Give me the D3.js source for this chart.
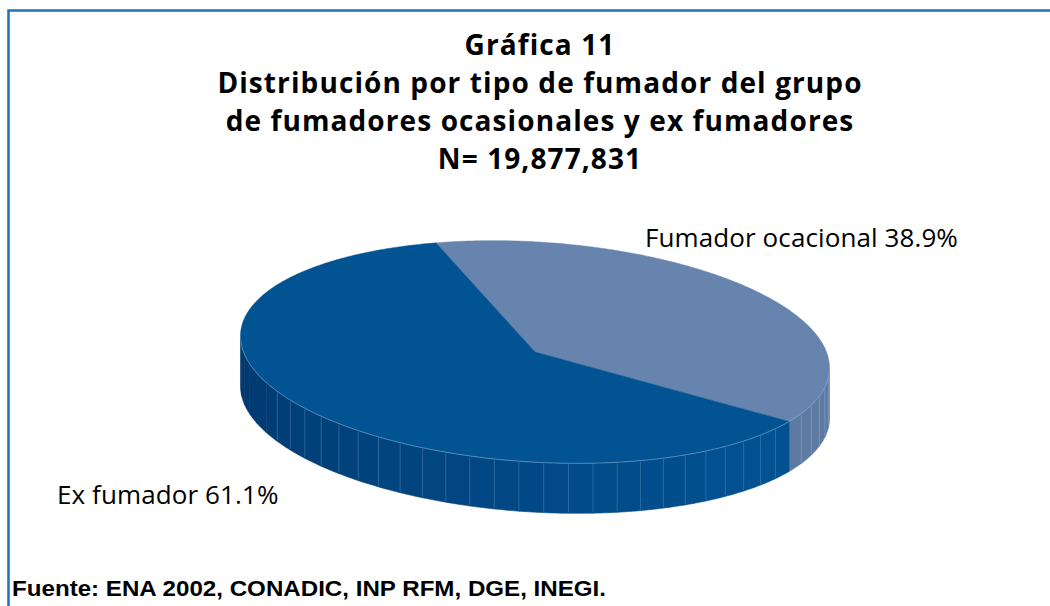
<!DOCTYPE html>
<html><head><meta charset="utf-8">
<script src="https://cdn.jsdelivr.net/npm/d3@7"></script>
<style>body{margin:0;background:#fff}svg{display:block}</style>
</head><body>
<svg id="c" width="1050" height="606"></svg>
<script>
// ---- data ----
const titleLines = ["Gráfica 11", "Distribución por tipo de fumador del grupo", "de fumadores ocasionales y ex fumadores", "N= 19,877,831"];
const categories = ["Fumador ocacional", "Ex fumador"];
const values = [38.9, 61.1];
const sourceText = "Fuente: ENA 2002, CONADIC, INP RFM, DGE, INEGI.";

// ---- style / layout ----
const topColors = ["#6784ae", "#015392"];
const svg = d3.select("#c");
const W = 1050, H = 606;

// frame
svg.append("path").attr("d", `M8.5,${H + 5} V10.5 H${W + 5}`)
  .attr("fill", "none").attr("stroke", "#1f73ba").attr("stroke-width", 2.5);

// title
const title = svg.append("text").attr("text-anchor", "middle")
  .attr("font-family", "'Open Sans', 'Noto Sans', sans-serif").attr("font-weight", 700)
  .attr("font-size", 28).attr("letter-spacing", 1.1).attr("fill", "#000");
titleLines.forEach((t, i) => {
  title.append("tspan").attr("x", 540).attr("y", 55 + i * 38).text(t);
});

// pie geometry
const cx = 535, cy = 352, rx = 295, ry = 110, depth = 50, tilt = 3.6 * Math.PI / 180;
const ca = Math.cos(tilt), sa = Math.sin(tilt);
function P(phi, dz) {
  const x = rx * Math.cos(phi), y = ry * Math.sin(phi);
  return [cx + x * ca - y * sa, cy + x * sa + y * ca + dz];
}
const phiR = Math.atan(-(ry * sa) / (rx * ca)); // right silhouette
const phiL = phiR + Math.PI;                   // left silhouette

const startDeg = -21;
const pie = d3.pie().sort(null)
  .startAngle(startDeg * Math.PI / 180)
  .endAngle(startDeg * Math.PI / 180 + 2 * Math.PI);
const arcs = pie(values).map((d, i) => ({
  i, a0: d.startAngle - Math.PI / 2, a1: d.endAngle - Math.PI / 2
}));

const gWalls = svg.append("g");
const gTop = svg.append("g");
const lineGen = d3.line();

// walls (front visible range)
const facetStep = 4.8 * Math.PI / 180;
const darkWall = d3.interpolateRgb("#00356a", "#025292");
arcs.forEach(s => {
  for (let k = -1; k <= 1; k++) {
    const a0 = Math.max(s.a0 + k * 2 * Math.PI, phiR);
    const a1 = Math.min(s.a1 + k * 2 * Math.PI, phiL);
    if (a1 <= a0) continue;
    const n = Math.max(1, Math.round((a1 - a0) / facetStep));
    for (let j = 0; j < n; j++) {
      const p0 = a0 + (a1 - a0) * j / n, p1 = a0 + (a1 - a0) * (j + 1) / n;
      const pts = [];
      const m = 6;
      for (let q = 0; q <= m; q++) pts.push(P(p0 + (p1 - p0) * q / m, 0));
      for (let q = m; q >= 0; q--) pts.push(P(p0 + (p1 - p0) * q / m, depth));
      const mid = (p0 + p1) / 2;
      let col;
      if (s.i === 0) col = "#5d7aa3";
      else {
        const t = Math.max(0, Math.min(1, (Math.PI - mid) / (Math.PI * 0.8)));
        col = darkWall(Math.pow(t, 0.8));
      }
      gWalls.append("path").attr("d", lineGen(pts) + "Z")
        .attr("fill", col).attr("stroke", col).attr("stroke-width", 0.6);
    }
    for (let j = 1; j < n; j++) {
      const p = a0 + (a1 - a0) * j / n;
      if (p > Math.PI * 0.85) continue;
      gWalls.append("path").attr("d", lineGen([P(p, 1), P(p, depth - 1)]))
        .attr("stroke", s.i === 0 ? "#9ab0cf" : "#5a8bc0").attr("stroke-width", 0.7)
        .attr("stroke-opacity", 0.6);
    }
  }
});

// top faces
arcs.forEach(s => {
  const pts = [[cx, cy]];
  const n = Math.max(8, Math.ceil((s.a1 - s.a0) / 0.01));
  for (let q = 0; q <= n; q++) pts.push(P(s.a0 + (s.a1 - s.a0) * q / n, 0));
  gTop.append("path").attr("d", lineGen(pts) + "Z")
    .attr("fill", topColors[s.i]).attr("stroke", topColors[s.i]).attr("stroke-width", 0.5);
});
// highlight on front top edge
{
  const pts = [];
  const n = 300;
  for (let q = 0; q <= n; q++) pts.push(P(phiR + (phiL - phiR) * q / n, 0));
  gTop.append("path").attr("d", lineGen(pts)).attr("fill", "none")
    .attr("stroke", "#8fb0d6").attr("stroke-width", 0.8).attr("stroke-opacity", 0.7);
}

// labels
const lab = svg.append("g").attr("font-family", "'Open Sans', 'Noto Sans', sans-serif")
  .attr("font-size", 26).attr("letter-spacing", 0.1).attr("fill", "#000");
lab.append("text").attr("x", 645).attr("y", 247).text(`${categories[0]} ${values[0]}%`);
lab.append("text").attr("x", 57).attr("y", 504).text(`${categories[1]} ${values[1]}%`);

// source
svg.append("text").attr("x", 12).attr("y", 596)
  .attr("font-family", "'Liberation Sans', Arial, sans-serif").attr("font-weight", 700)
  .attr("font-size", 22).attr("textLength", 594).attr("lengthAdjust", "spacingAndGlyphs")
  .text(sourceText);
</script>
</body></html>
